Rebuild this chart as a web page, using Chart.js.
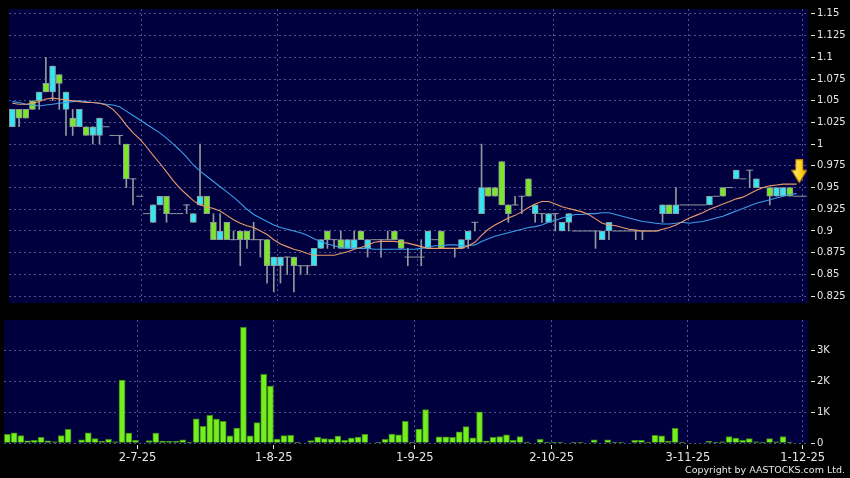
<!DOCTYPE html>
<html>
<head>
<meta charset="utf-8">
<script src="https://cdn.jsdelivr.net/npm/chart.js@4.4.1/dist/chart.umd.min.js"></script>
<style>
  html, body { margin: 0; padding: 0; background: #000; }
  #wrap { position: relative; width: 850px; height: 478px; overflow: hidden; background: #000; }
  #price { position: absolute; left: 0; top: 0; }
  #volume { position: absolute; left: 0; top: 312px; }
</style>
</head>
<body>
<div id="wrap">
  <canvas id="price" width="850" height="312"></canvas>
  <canvas id="volume" width="850" height="166"></canvas>
</div>
<script>
// daily candles, one slot per trading day
const openP = [
  1.02, 1.04, 1.04, 1.05, 1.05, 1.07, 1.06, 1.08, 1.04, 1.03, 1.02, 1.02, 1.01, 1.01, 1.02, 1.01, 1.01, 1.00, 0.96, 0.94,
  0.92, 0.91, 0.93, 0.94, 0.92, 0.92, 0.93, 0.91, 0.93, 0.94, 0.91, 0.89, 0.91, 0.89, 0.90, 0.90, 0.89, 0.89, 0.89, 0.86,
  0.86, 0.87, 0.87, 0.86, 0.86, 0.86, 0.88, 0.90, 0.89, 0.89, 0.88, 0.88, 0.90, 0.88, 0.89, 0.89, 0.89, 0.90, 0.89, 0.87,
  0.87, 0.87, 0.88, 0.89, 0.90, 0.88, 0.88, 0.88, 0.89, 0.91, 0.92, 0.95, 0.95, 0.98, 0.93, 0.93, 0.94, 0.96, 0.92, 0.92,
  0.91, 0.92, 0.90, 0.91, 0.90, 0.90, 0.90, 0.90, 0.89, 0.90, 0.90, 0.90, 0.90, 0.90, 0.90, 0.90, 0.90, 0.92, 0.93, 0.92,
  0.93, 0.93, 0.93, 0.93, 0.93, 0.94, 0.95, 0.95, 0.96, 0.96, 0.97, 0.95, 0.95, 0.95, 0.94, 0.94, 0.95, 0.94, 0.94
];
const highP = [
  1.04, 1.04, 1.04, 1.05, 1.06, 1.10, 1.09, 1.08, 1.06, 1.04, 1.04, 1.02, 1.02, 1.03, 1.02, 1.01, 1.01, 1.00, 0.96, 0.94,
  0.92, 0.93, 0.94, 0.94, 0.92, 0.92, 0.93, 0.92, 1.00, 0.94, 0.92, 0.92, 0.91, 0.90, 0.90, 0.90, 0.91, 0.89, 0.89, 0.87,
  0.87, 0.87, 0.87, 0.86, 0.86, 0.88, 0.89, 0.90, 0.89, 0.90, 0.89, 0.90, 0.90, 0.89, 0.89, 0.89, 0.90, 0.90, 0.89, 0.88,
  0.87, 0.89, 0.90, 0.89, 0.90, 0.88, 0.88, 0.89, 0.90, 0.91, 1.00, 0.95, 0.95, 0.98, 0.93, 0.94, 0.94, 0.96, 0.93, 0.92,
  0.92, 0.92, 0.91, 0.92, 0.90, 0.90, 0.90, 0.90, 0.90, 0.91, 0.90, 0.90, 0.90, 0.90, 0.90, 0.90, 0.90, 0.93, 0.93, 0.95,
  0.93, 0.93, 0.93, 0.93, 0.94, 0.94, 0.95, 0.95, 0.97, 0.96, 0.97, 0.96, 0.95, 0.95, 0.95, 0.95, 0.95, 0.94, 0.94
];
const lowP = [
  1.02, 1.02, 1.03, 1.04, 1.04, 1.06, 1.05, 1.04, 1.01, 1.01, 1.02, 1.01, 1.00, 1.00, 1.02, 1.01, 1.00, 0.95, 0.93, 0.94,
  0.92, 0.91, 0.93, 0.91, 0.92, 0.92, 0.92, 0.91, 0.93, 0.92, 0.89, 0.89, 0.89, 0.89, 0.86, 0.88, 0.89, 0.87, 0.84, 0.83,
  0.84, 0.85, 0.83, 0.85, 0.85, 0.86, 0.88, 0.88, 0.88, 0.88, 0.88, 0.88, 0.89, 0.87, 0.89, 0.87, 0.89, 0.89, 0.88, 0.86,
  0.87, 0.86, 0.88, 0.89, 0.88, 0.88, 0.87, 0.88, 0.88, 0.90, 0.92, 0.94, 0.94, 0.93, 0.91, 0.93, 0.92, 0.94, 0.91, 0.91,
  0.91, 0.90, 0.90, 0.90, 0.90, 0.90, 0.90, 0.88, 0.89, 0.89, 0.90, 0.90, 0.90, 0.89, 0.89, 0.90, 0.90, 0.91, 0.92, 0.92,
  0.93, 0.93, 0.93, 0.93, 0.93, 0.94, 0.94, 0.95, 0.96, 0.96, 0.95, 0.95, 0.95, 0.93, 0.94, 0.94, 0.94, 0.94, 0.94
];
const closeP = [
  1.04, 1.03, 1.03, 1.04, 1.06, 1.06, 1.09, 1.07, 1.06, 1.02, 1.04, 1.01, 1.02, 1.03, 1.02, 1.01, 1.01, 0.96, 0.96, 0.94,
  0.92, 0.93, 0.94, 0.92, 0.92, 0.92, 0.93, 0.92, 0.94, 0.92, 0.89, 0.90, 0.89, 0.89, 0.89, 0.89, 0.89, 0.89, 0.86, 0.87,
  0.87, 0.87, 0.86, 0.86, 0.86, 0.88, 0.89, 0.89, 0.89, 0.88, 0.89, 0.89, 0.89, 0.89, 0.89, 0.89, 0.89, 0.89, 0.88, 0.87,
  0.87, 0.87, 0.90, 0.89, 0.88, 0.88, 0.88, 0.89, 0.90, 0.91, 0.95, 0.94, 0.94, 0.93, 0.92, 0.93, 0.94, 0.94, 0.93, 0.92,
  0.92, 0.92, 0.91, 0.92, 0.90, 0.90, 0.90, 0.90, 0.90, 0.91, 0.90, 0.90, 0.90, 0.90, 0.90, 0.90, 0.90, 0.93, 0.92, 0.93,
  0.93, 0.93, 0.93, 0.93, 0.94, 0.94, 0.94, 0.95, 0.97, 0.96, 0.97, 0.96, 0.95, 0.94, 0.95, 0.95, 0.94, 0.94, 0.94
];
// volume in thousands
const volK = [
  0.28, 0.33, 0.24, 0.07, 0.09, 0.18, 0.07, 0.04, 0.24, 0.44, 0.00, 0.10, 0.33, 0.14, 0.05, 0.12, 0.04, 2.03, 0.32, 0.09,
  0.00, 0.08, 0.32, 0.06, 0.05, 0.05, 0.10, 0.03, 0.78, 0.54, 0.89, 0.77, 0.70, 0.23, 0.48, 3.73, 0.23, 0.66, 2.22, 1.84,
  0.13, 0.24, 0.25, 0.03, 0.00, 0.08, 0.19, 0.14, 0.13, 0.22, 0.09, 0.16, 0.19, 0.28, 0.00, 0.01, 0.12, 0.29, 0.26, 0.70,
  0.02, 0.45, 1.08, 0.00, 0.20, 0.20, 0.18, 0.36, 0.53, 0.17, 1.01, 0.06, 0.18, 0.21, 0.26, 0.09, 0.21, 0.03, 0.00, 0.12,
  0.03, 0.03, 0.03, 0.00, 0.02, 0.03, 0.00, 0.10, 0.00, 0.10, 0.02, 0.03, 0.00, 0.09, 0.09, 0.03, 0.25, 0.23, 0.05, 0.47,
  0.03, 0.00, 0.00, 0.00, 0.05, 0.02, 0.04, 0.21, 0.16, 0.09, 0.14, 0.04, 0.01, 0.14, 0.04, 0.21, 0.03, 0.00, 0.00
];
// moving averages (orange = short, blue = long)
const maShort = [
  1.047, 1.046, 1.046, 1.047, 1.049, 1.052, 1.053, 1.052, 1.051, 1.050, 1.049, 1.048, 1.048, 1.047, 1.045, 1.040, 1.032, 1.022, 1.013, 1.006,
  0.997, 0.987, 0.978, 0.968, 0.958, 0.949, 0.942, 0.935, 0.930, 0.928, 0.926, 0.923, 0.918, 0.913, 0.909, 0.906, 0.904, 0.900, 0.896, 0.890,
  0.885, 0.882, 0.879, 0.877, 0.874, 0.872, 0.872, 0.872, 0.872, 0.874, 0.876, 0.879, 0.881, 0.884, 0.887, 0.888, 0.888, 0.888, 0.887, 0.886,
  0.884, 0.882, 0.880, 0.880, 0.880, 0.880, 0.880, 0.880, 0.883, 0.887, 0.895, 0.902, 0.907, 0.911, 0.915, 0.918, 0.922, 0.927, 0.931, 0.934,
  0.934, 0.931, 0.928, 0.926, 0.924, 0.922, 0.919, 0.914, 0.909, 0.907, 0.906, 0.904, 0.902, 0.901, 0.900, 0.900, 0.900, 0.902, 0.904, 0.907,
  0.911, 0.915, 0.918, 0.921, 0.925, 0.928, 0.931, 0.934, 0.937, 0.939, 0.943, 0.947, 0.950, 0.952, 0.953, 0.954, 0.954, 0.954
];
const maLong = [
  1.049, 1.048, 1.046, 1.045, 1.044, 1.045, 1.046, 1.047, 1.048, 1.049, 1.050, 1.049, 1.048, 1.047, 1.046, 1.045, 1.043, 1.038, 1.033, 1.028,
  1.023, 1.018, 1.013, 1.007, 1.000, 0.993, 0.985, 0.976, 0.969, 0.963, 0.957, 0.951, 0.945, 0.939, 0.932, 0.925, 0.919, 0.915, 0.911, 0.907,
  0.904, 0.902, 0.900, 0.898, 0.895, 0.891, 0.888, 0.885, 0.883, 0.881, 0.880, 0.880, 0.880, 0.880, 0.879, 0.879, 0.879, 0.879, 0.879, 0.879,
  0.879, 0.880, 0.881, 0.883, 0.883, 0.884, 0.884, 0.883, 0.883, 0.884, 0.888, 0.891, 0.894, 0.896, 0.898, 0.900, 0.902, 0.904, 0.905, 0.907,
  0.910, 0.912, 0.915, 0.917, 0.919, 0.919, 0.920, 0.920, 0.921, 0.921, 0.919, 0.917, 0.915, 0.913, 0.911, 0.910, 0.909, 0.908, 0.908, 0.909,
  0.910, 0.909, 0.910, 0.911, 0.913, 0.915, 0.917, 0.920, 0.923, 0.926, 0.929, 0.932, 0.934, 0.936, 0.938, 0.940, 0.942, 0.943
];
const monthTicks = [19.3, 39.5, 60.4, 80.7, 100.9, 117.9];
const monthLabels = ['2-7-25', '1-8-25', '1-9-25', '2-10-25', '3-11-25', '1-12-25'];
const priceTicks = [0.825, 0.85, 0.875, 0.9, 0.925, 0.95, 0.975, 1, 1.025, 1.05, 1.075, 1.1, 1.125, 1.15];
const volTicks = [0, 1, 2, 3];
const lastMark = [117.4, 0.955];

const NAVY = '#00003f';
const GRID = '#50508a';
const TEXT = '#e6e6e6';
const UP = '#35e6f2';
const DOWN = '#7ee62a';
const EDGE = '#8e9a9c';

const panelBg = {
  id: 'panelBg',
  beforeDraw(chart) {
    const { ctx, chartArea: a } = chart;
    ctx.save();
    ctx.fillStyle = '#000';
    ctx.fillRect(0, 0, chart.width, chart.height);
    ctx.fillStyle = NAVY;
    ctx.fillRect(a.left, a.top, a.right - a.left, a.bottom - a.top);
    ctx.restore();
  }
};

const copyright = {
  id: 'copyright',
  afterDraw(chart) {
    const ctx = chart.ctx;
    ctx.save();
    ctx.font = '9.5px "DejaVu Sans"';
    ctx.fillStyle = TEXT;
    ctx.textAlign = 'right';
    ctx.textBaseline = 'alphabetic';
    ctx.fillText('Copyright by AASTOCKS.com Ltd.', 845, 161);
    ctx.restore();
  }
};

function xAxis(showLabels, h) {
  return {
    type: 'linear',
    min: -0.5,
    max: 118.7,
    offset: false,
    afterBuildTicks: s => { s.ticks = monthTicks.map(v => ({ value: v })); },
    afterFit: s => { s.height = h; },
    grid: {
      color: GRID, offset: false, drawTicks: showLabels, tickLength: 6,
      tickColor: TEXT, tickBorderDash: [0, 2, 4, 20]
    },
    border: { display: false, dash: [2, 3] },
    ticks: {
      display: showLabels, autoSkip: false, maxRotation: 0, padding: 2, color: TEXT,
      font: { family: 'DejaVu Sans', size: 11.5 },
      callback: (v, i) => monthLabels[i]
    }
  };
}

function yAxis(min, max, tickVals, fmt) {
  return {
    type: 'linear',
    position: 'right',
    min: min,
    max: max,
    afterBuildTicks: s => { s.ticks = tickVals.map(v => ({ value: v })); },
    afterFit: s => { s.width = 42; },
    grid: { color: GRID, tickLength: 7, tickColor: TEXT, tickBorderDash: [0, 3, 4, 20] },
    border: { display: false, dash: [2, 3] },
    ticks: { color: TEXT, padding: 2, font: { family: 'DejaVu Sans', size: 10 }, callback: fmt }
  };
}

function makeArrow() {
  const c = document.createElement('canvas');
  c.width = 16; c.height = 48;
  const g = c.getContext('2d');
  const grad = g.createLinearGradient(0, 0, 16, 0);
  grad.addColorStop(0, '#fff08a');
  grad.addColorStop(0.6, '#ffd21e');
  grad.addColorStop(1, '#e8a400');
  g.beginPath();
  g.moveTo(4.5, 0.5); g.lineTo(11.5, 0.5); g.lineTo(11.5, 11); g.lineTo(15.5, 11);
  g.lineTo(8, 23.5); g.lineTo(0.5, 11); g.lineTo(4.5, 11); g.closePath();
  g.fillStyle = grad; g.fill();
  g.strokeStyle = '#c48800'; g.lineWidth = 1; g.stroke();
  return c;
}

const idx = closeP.map((_, i) => i);
const wicks = idx.filter(i => highP[i] > lowP[i]).map(i => ({ x: i, y: [lowP[i], highP[i]] }));
const bodyIdx = idx.filter(i => openP[i] !== closeP[i]);
const bodies = bodyIdx.map(i => ({ x: i, y: [openP[i], closeP[i]] }));
const bodyColors = bodyIdx.map(i => closeP[i] > openP[i] ? UP : DOWN);
const dojis = idx.filter(i => openP[i] === closeP[i]).map(i => ({ x: i, y: closeP[i] }));

new Chart(document.getElementById('price'), {
  type: 'bar',
  data: {
    datasets: [
      { type: 'bar', data: wicks, backgroundColor: EDGE, barThickness: 1, grouped: false, order: 6 },
      {
        type: 'bar', data: bodies, backgroundColor: bodyColors, borderColor: EDGE, borderWidth: 1,
        borderSkipped: false, barThickness: 6, grouped: false, order: 5
      },
      {
        type: 'line', data: dojis, showLine: false, pointStyle: 'line', pointRadius: 3.4,
        pointBorderColor: EDGE, pointBorderWidth: 1, order: 4
      },
      {
        type: 'line', data: maLong.map((v, i) => ({ x: i, y: v })), borderColor: '#3c9ee6',
        borderWidth: 1.1, pointRadius: 0, tension: 0, order: 3
      },
      {
        type: 'line', data: maShort.map((v, i) => ({ x: i, y: v })), borderColor: '#e89a6c',
        borderWidth: 1.1, pointRadius: 0, tension: 0, order: 2
      },
      {
        type: 'line', data: [{ x: lastMark[0], y: lastMark[1] }], showLine: false,
        pointStyle: makeArrow(), pointRadius: 8, order: 1
      }
    ]
  },
  options: {
    responsive: false,
    animation: false,
    events: [],
    layout: { padding: { left: 4, top: 5, right: 0, bottom: 0 } },
    plugins: { legend: { display: false }, tooltip: { enabled: false } },
    scales: {
      x: xAxis(false, 6),
      y: yAxis(0.8171, 1.1556, priceTicks, v => String(+v.toFixed(3)))
    }
  },
  plugins: [panelBg]
});

new Chart(document.getElementById('volume'), {
  type: 'bar',
  data: {
    datasets: [{
      data: volK.map((v, i) => ({ x: i, y: v })),
      backgroundColor: '#74ee1e',
      borderColor: '#3f8c12',
      borderWidth: 1,
      barThickness: 6
    }]
  },
  options: {
    responsive: false,
    animation: false,
    events: [],
    layout: { padding: { left: 4, top: 6, right: 0, bottom: 0 } },
    plugins: { legend: { display: false }, tooltip: { enabled: false } },
    scales: {
      x: xAxis(true, 35),
      y: yAxis(0, 3.97, volTicks, v => v === 0 ? '0' : v + 'K')
    }
  },
  plugins: [panelBg, copyright]
});
</script>
</body>
</html>
